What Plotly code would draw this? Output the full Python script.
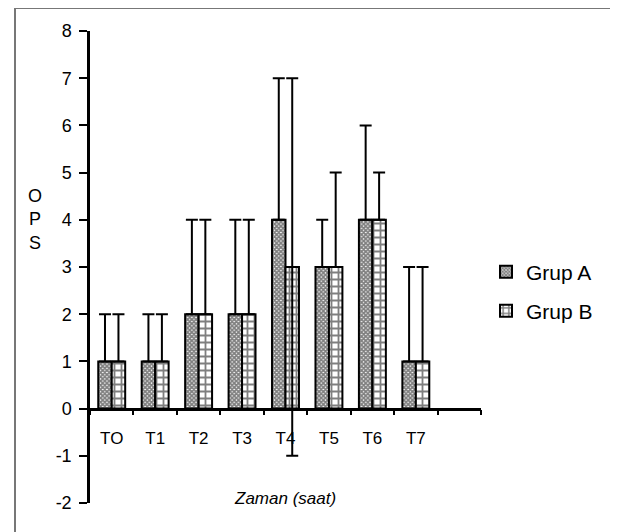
import plotly.graph_objects as go

categories = ["TO", "T1", "T2", "T3", "T4", "T5", "T6", "T7"]
grup_a = [1, 1, 2, 2, 4, 3, 4, 1]
grup_a_err_up = [1, 1, 2, 2, 3, 1, 2, 2]
grup_a_err_down = [0, 0, 0, 0, 0, 0, 0, 0]
grup_b = [1, 1, 2, 2, 3, 3, 4, 1]
grup_b_err_up = [1, 1, 2, 2, 4, 2, 1, 2]
grup_b_err_down = [0, 0, 0, 0, 4, 0, 0, 0]
y_ticks = [-2, -1, 0, 1, 2, 3, 4, 5, 6, 7, 8]
y_tick_text = ["-2", "-1", "0", "1", "2", "3", "4", "5", "6", "7", "8"]

all_cats = categories + [" "]

fig = go.Figure()
fig.add_trace(go.Bar(
    name="Grup A", x=categories, y=grup_a, legend="legend",
    marker=dict(color="white", line=dict(color="black", width=2),
                pattern=dict(shape="x", fgcolor="black", bgcolor="white", size=3, solidity=0.8)),
    error_y=dict(type="data", symmetric=False, array=grup_a_err_up, arrayminus=grup_a_err_down,
                 color="black", thickness=2, width=6),
))
fig.add_trace(go.Bar(
    name="Grup B", x=categories, y=grup_b, legend="legend2",
    marker=dict(color="white", line=dict(color="black", width=2),
                pattern=dict(shape="+", fgcolor="black", bgcolor="white", size=7, solidity=0.45)),
    error_y=dict(type="data", symmetric=False, array=grup_b_err_up, arrayminus=grup_b_err_down,
                 color="black", thickness=2, width=6),
))

# page is offset by the 8px body margin; plot area page x 90..481, y 31..503
W, H = 618, 532
ml, mt = 82, 23
pw, ph = 391, 472
mr = W - ml - pw
mb = H - mt - ph
frac0 = 2 / 10  # y=0 position within the y range [-2, 8]


def px(page_x):
    return (page_x - 8 - ml) / pw


def py(page_y):
    return (mt + ph - (page_y - 8)) / ph


leg_common = dict(xanchor="left", yanchor="middle", font=dict(size=21),
                  bgcolor="rgba(0,0,0,0)", itemsizing="constant")

fig.update_layout(
    width=W, height=H,
    margin=dict(l=ml, r=mr, t=mt, b=mb, autoexpand=False),
    paper_bgcolor="white", plot_bgcolor="white",
    barmode="group", bargap=0.38, bargroupgap=0,
    font=dict(family="Liberation Sans, Arial", color="black"),
    showlegend=True,
    legend=dict(x=px(486), y=py(272), **leg_common),
    legend2=dict(x=px(486), y=py(311), **leg_common),
    xaxis=dict(type="category", categoryorder="array", categoryarray=all_cats,
               range=[-0.5, 8.5], tickson="boundaries", ticks="outside", ticklen=5,
               tickwidth=2, tickcolor="black", showline=True, linecolor="black", linewidth=2.5,
               showgrid=False, anchor="free", position=frac0,
               tickfont=dict(size=17), ticklabelstandoff=13, zeroline=False),
    yaxis=dict(range=[-2, 8], tickvals=y_ticks, ticktext=y_tick_text, ticks="outside",
               ticklen=8, tickwidth=2, tickcolor="black", showline=True, linecolor="black",
               linewidth=2.5, showgrid=False, zeroline=False, tickfont=dict(size=18),
               ticklabelstandoff=4),
)

fig.add_annotation(text="O<br>P<br>S", xref="paper", yref="paper", x=px(35), y=py(219),
                   showarrow=False, font=dict(size=18), align="center",
                   xanchor="center", yanchor="middle")
fig.add_annotation(text="<i>Zaman (saat)</i>", xref="paper", yref="paper", x=px(285), y=py(498),
                   showarrow=False, font=dict(size=17), xanchor="center", yanchor="middle")

# outer frame (top and left edges visible in the reference)
fig.add_shape(type="line", xref="paper", yref="paper", x0=px(15), x1=px(640),
              y0=py(8), y1=py(8), line=dict(color="#777777", width=2))
fig.add_shape(type="line", xref="paper", yref="paper", x0=px(15), x1=px(15),
              y0=py(8), y1=py(560), line=dict(color="#777777", width=2))

fig.write_html("out.html")
